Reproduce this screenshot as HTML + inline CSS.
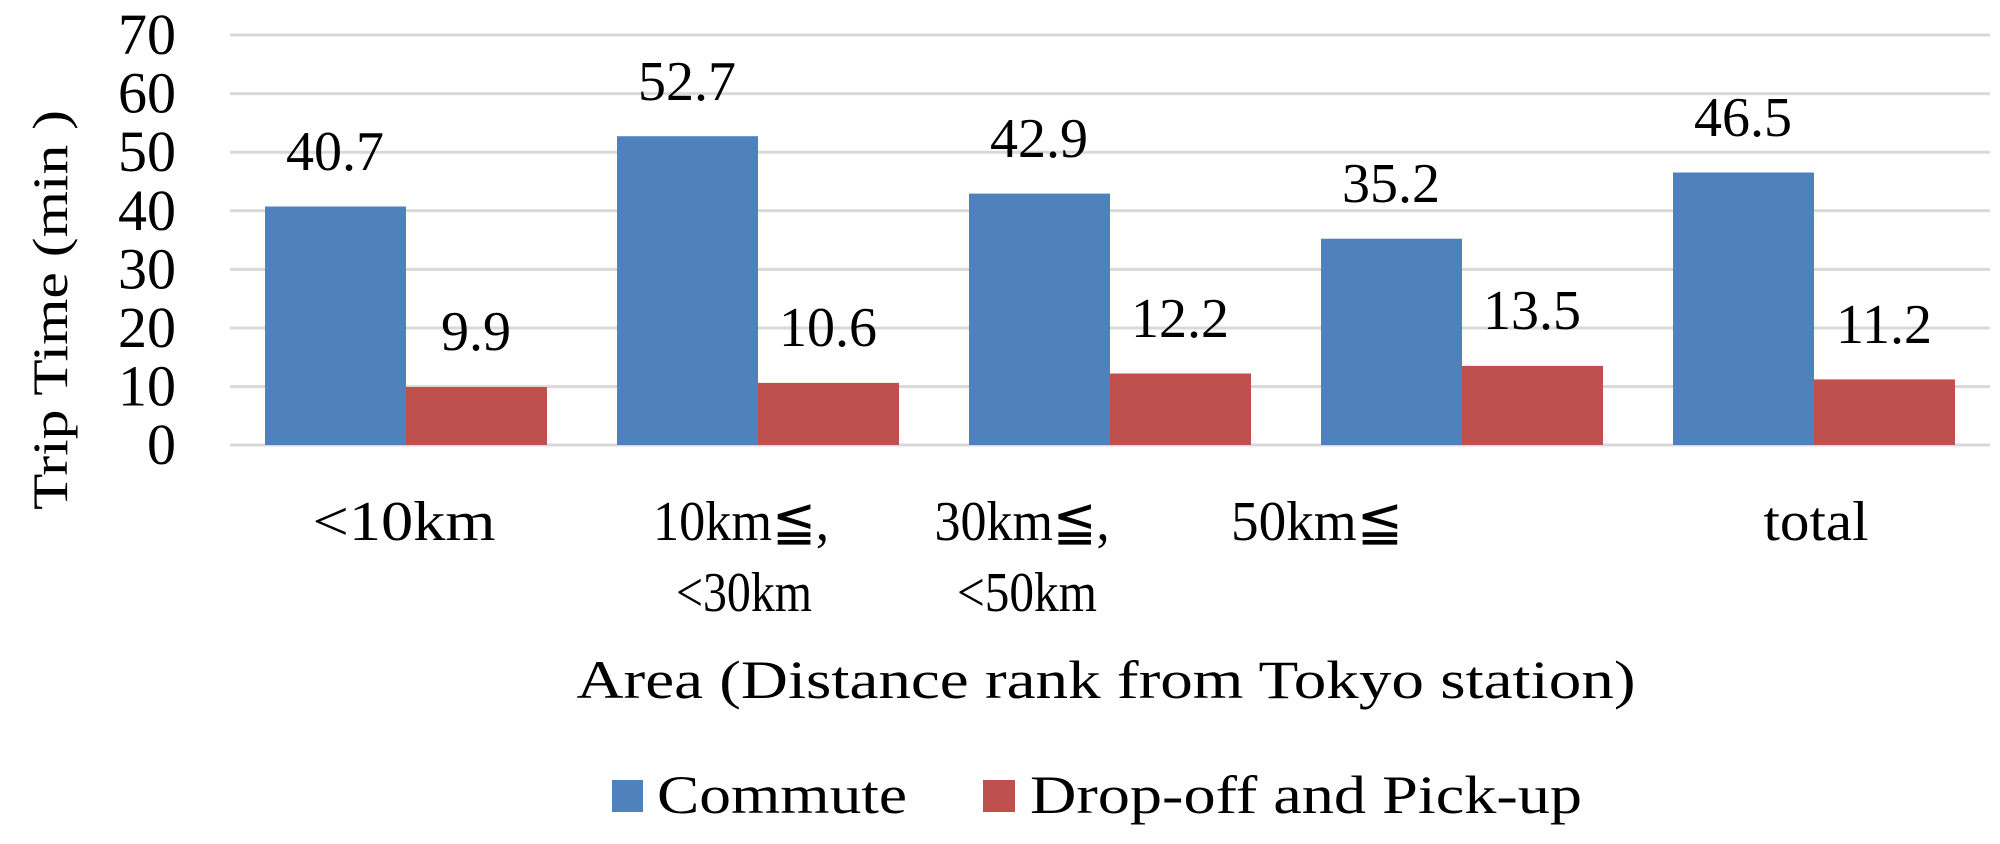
<!DOCTYPE html>
<html><head><meta charset="utf-8"><style>html,body{margin:0;padding:0;background:#fff}svg{display:block}</style></head>
<body>
<svg width="2000" height="844" xmlns="http://www.w3.org/2000/svg" font-family="'Liberation Serif', serif" fill="#000">
<g stroke="#d9d9d9" stroke-width="3">
<line x1="230" x2="1990" y1="35" y2="35"/>
<line x1="230" x2="1990" y1="93.6" y2="93.6"/>
<line x1="230" x2="1990" y1="152.2" y2="152.2"/>
<line x1="230" x2="1990" y1="210.8" y2="210.8"/>
<line x1="230" x2="1990" y1="269.4" y2="269.4"/>
<line x1="230" x2="1990" y1="328" y2="328"/>
<line x1="230" x2="1990" y1="386.6" y2="386.6"/>
<line x1="230" x2="1990" y1="445" y2="445"/>
</g>
<g font-size="58" text-anchor="end">
<text x="176" y="54">70</text><text x="176" y="112.6">60</text><text x="176" y="171.2">50</text>
<text x="176" y="229.8">40</text><text x="176" y="288.4">30</text><text x="176" y="347">20</text>
<text x="176" y="405.6">10</text><text x="176" y="464">0</text>
</g>
<text transform="translate(67,310) rotate(-90)" font-size="50" text-anchor="middle" textLength="400" lengthAdjust="spacingAndGlyphs">Trip Time (min )</text>
<g fill="#4f81bd">
<rect x="265" y="206.5" width="141" height="238.5"/>
<rect x="617" y="136.2" width="141" height="308.8"/>
<rect x="969" y="193.6" width="141" height="251.4"/>
<rect x="1321" y="238.7" width="141" height="206.3"/>
<rect x="1673" y="172.5" width="141" height="272.5"/>
</g>
<g fill="#c0504d">
<rect x="406" y="387" width="141" height="58"/>
<rect x="758" y="382.9" width="141" height="62.1"/>
<rect x="1110" y="373.5" width="141" height="71.5"/>
<rect x="1462" y="365.9" width="141" height="79.1"/>
<rect x="1814" y="379.4" width="141" height="65.6"/>
</g>
<g font-size="56" text-anchor="middle">
<text x="335" y="170">40.7</text><text x="687" y="100">52.7</text><text x="1039" y="157">42.9</text>
<text x="1391" y="202">35.2</text><text x="1743" y="136">46.5</text>
<text x="476" y="350">9.9</text><text x="828" y="346">10.6</text><text x="1180" y="337">12.2</text>
<text x="1532" y="329">13.5</text><text x="1884" y="343">11.2</text>
</g>
<g font-size="56" text-anchor="middle" lengthAdjust="spacingAndGlyphs">
<text x="404" y="540" textLength="183" lengthAdjust="spacingAndGlyphs">&lt;10km</text>
<text x="741" y="540" textLength="176" lengthAdjust="spacingAndGlyphs">10km≦,</text>
<text x="744" y="611" textLength="136" lengthAdjust="spacingAndGlyphs">&lt;30km</text>
<text x="1022" y="540" textLength="175" lengthAdjust="spacingAndGlyphs">30km≦,</text>
<text x="1027" y="611" textLength="140" lengthAdjust="spacingAndGlyphs">&lt;50km</text>
<text x="1317" y="540" textLength="172" lengthAdjust="spacingAndGlyphs">50km≦</text>
<text x="1816" y="540" textLength="105" lengthAdjust="spacingAndGlyphs">total</text>
<text x="1106" y="698" font-size="54" textLength="1059" lengthAdjust="spacingAndGlyphs">Area (Distance rank from Tokyo station)</text>
</g>
<rect x="612" y="780" width="31" height="32" fill="#4f81bd"/>
<text x="657" y="813" font-size="54" textLength="250" lengthAdjust="spacingAndGlyphs">Commute</text>
<rect x="983" y="780" width="32" height="32" fill="#c0504d"/>
<text x="1030" y="813" font-size="54" textLength="552" lengthAdjust="spacingAndGlyphs">Drop-off and Pick-up</text>
</svg>
</body></html>
